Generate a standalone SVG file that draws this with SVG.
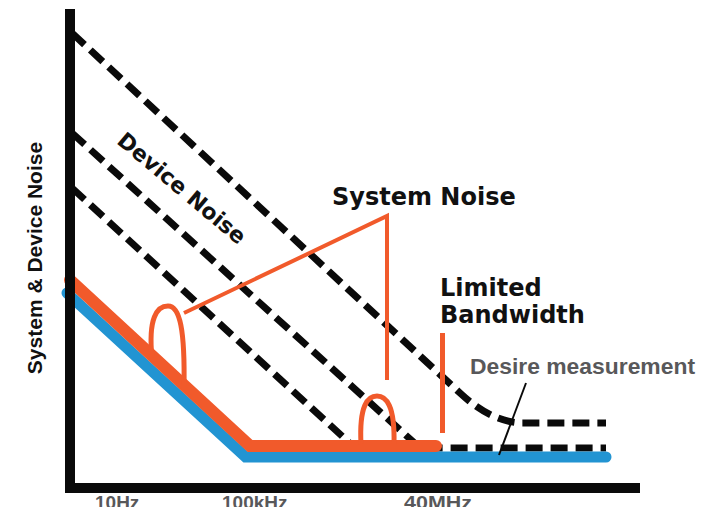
<svg xmlns="http://www.w3.org/2000/svg" width="706" height="507" viewBox="0 0 706 507">
<style>
.dash{fill:none;stroke:#0a0a0a;stroke-width:7;stroke-dasharray:17 8}
.orange{fill:none;stroke:#f15a2b}
.blue{fill:none;stroke:#2294d2}
.axis{fill:none;stroke:#0a0a0a;stroke-width:10}
.lbl{font-family:"DejaVu Sans",sans-serif;font-weight:bold;fill:#111}
.ylbl{font-family:"Liberation Sans",Arial,sans-serif;font-weight:bold;fill:#111}
.gray{font-family:"Liberation Sans",Arial,sans-serif;font-weight:bold;fill:#58585a}
</style>
<rect width="706" height="507" fill="#fff"/>
<g id="device-noise-lines">
<path class="dash" d="M72,33 L460,393 Q490,421 520,423 L606,423"/>
<path class="dash" d="M72,133 L420,448 L606,448"/>
<path class="dash" d="M72,188 L355,448"/>
</g>
<g id="desired-measurement-curve">
<path class="blue" d="M67,293 L245.6,457 L606,457" stroke-width="11" stroke-linecap="round" stroke-linejoin="miter"/>
</g>
<g id="system-noise-curve">
<path class="orange" d="M70,280 L250,446 L436,446" stroke-width="12" stroke-linecap="round"/>
<path class="orange" d="M152,358 C148,318 157,306 168,306 C180,306 185,330 184,388" stroke-width="5"/>
<path class="orange" d="M361,444 C359,405 368,396 377,396 C386,396 395,405 394,444" stroke-width="5"/>
</g>
<g id="axes">
<path class="axis" d="M70,9 L70,488 L640,488" stroke-linejoin="miter"/>
</g>
<g id="connectors">
<path class="orange" d="M184,313 L387,216 L387,380" stroke-width="4" stroke-linejoin="miter"/>
<line x1="442.5" y1="333" x2="442.5" y2="433" stroke="#f15a2b" stroke-width="5"/>
<line x1="526" y1="383" x2="499" y2="455" stroke="#0a0a0a" stroke-width="2"/>
</g>
<g id="label-system-noise">
<text class="lbl" x="332" y="205" font-size="24">System Noise</text>
</g>
<g id="label-limited-bandwidth">
<text class="lbl" x="440" y="296" font-size="24">Limited</text>
<text class="lbl" x="440" y="323" font-size="24">Bandwidth</text>
</g>
<g id="label-desire">
<text class="gray" x="470" y="374" font-size="21.5" textLength="225" lengthAdjust="spacingAndGlyphs">Desire measurement</text>
</g>
<g id="label-device-noise">
<text class="lbl" transform="translate(177,194) rotate(40)" text-anchor="middle" font-size="22">Device Noise</text>
</g>
<g id="label-yaxis">
<text class="ylbl" transform="translate(42,258) rotate(-90)" text-anchor="middle" font-size="21">System &amp; Device Noise</text>
</g>
<g id="label-xaxis">
<text class="gray" x="95" y="509" font-size="19">10Hz</text>
<text class="gray" x="222" y="509" font-size="19">100kHz</text>
<text class="gray" x="404" y="509" font-size="19" textLength="68" lengthAdjust="spacingAndGlyphs">40MHz</text>
</g>
</svg>
